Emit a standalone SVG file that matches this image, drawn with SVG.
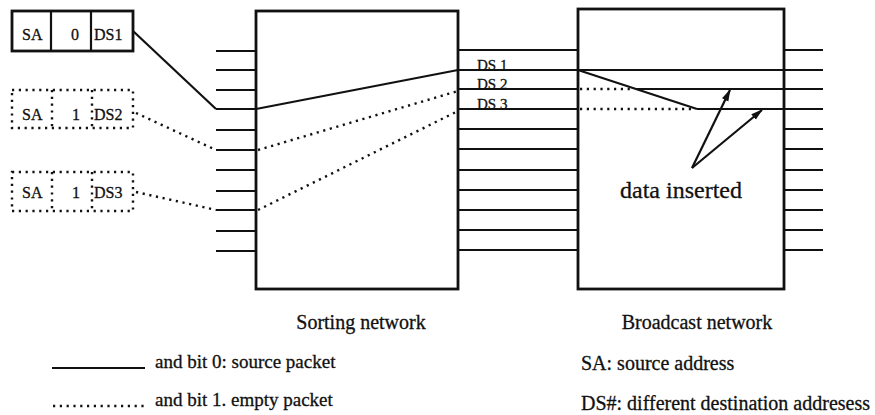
<svg xmlns="http://www.w3.org/2000/svg" width="875" height="415" viewBox="0 0 875 415">
<style>
text{font-family:"Liberation Serif","Times New Roman",serif;fill:#111;stroke:#111;stroke-width:0.3}
.s{stroke:#111;stroke-width:2.2;fill:none}
.b{stroke:#111;stroke-width:2.8;fill:#fff}
.d{stroke:#111;stroke-width:2.4;fill:none;stroke-dasharray:2.2 4.6}
.db{stroke:#111;stroke-width:2.4;fill:#fff;stroke-dasharray:2.2 4.6}
.pk{font-size:16px}
.ds{font-size:15px}
.lab{font-size:19px}
.lab2{font-size:20px}
</style>
<defs>
<marker id="ah" viewBox="0 0 12 8" refX="11" refY="4" markerWidth="12" markerHeight="8" markerUnits="userSpaceOnUse" orient="auto">
<path d="M0,0.5 L12,4 L0,7.5 Z" fill="#111"/>
</marker>
</defs>

<g id="packet1">
<rect class="b" x="12" y="11" width="121" height="40"/>
<line class="s" x1="51" y1="11" x2="51" y2="51"/>
<line class="s" x1="91" y1="11" x2="91" y2="51"/>
<text class="pk" x="22" y="40">SA</text>
<text class="pk" x="71" y="40">0</text>
<text class="pk" x="94" y="40">DS1</text>
</g>
<g id="packet2">
<rect class="db" x="12" y="90" width="121" height="38"/>
<line class="d" x1="52" y1="90" x2="52" y2="128"/>
<line class="d" x1="92" y1="90" x2="92" y2="128"/>
<text class="pk" x="22" y="120">SA</text>
<text class="pk" x="72" y="120">1</text>
<text class="pk" x="94" y="120">DS2</text>
</g>
<g id="packet3">
<rect class="db" x="12" y="172" width="121" height="39"/>
<line class="d" x1="52" y1="172" x2="52" y2="211"/>
<line class="d" x1="92" y1="172" x2="92" y2="211"/>
<text class="pk" x="22" y="198">SA</text>
<text class="pk" x="72" y="198">1</text>
<text class="pk" x="94" y="198">DS3</text>
</g>

<g id="sorting">
<rect class="b" x="256" y="11" width="202" height="278"/>
<text class="lab2" x="361" y="329" text-anchor="middle">Sorting network</text>
</g>
<g id="broadcast">
<rect class="b" x="578" y="9" width="206" height="280"/>
<text class="lab2" x="697" y="329" text-anchor="middle">Broadcast network</text>
<text x="681" y="198" text-anchor="middle" style="font-size:24px">data inserted</text>
</g>

<g id="connectors">
<path class="s" d="M216,51H256M216,70H256M216,90H256M216,109H256M216,130H256M216,150H256M216,170H256M216,191H256M216,210H256M216,231H256M216,251H256"/>
<path class="s" d="M458,50H578M458,70H578M458,89H578M458,109H578M458,129H578M458,149H578M458,170H578M458,190H578M458,210H578M458,230H578M458,250H578"/>
<path class="s" d="M784,50H823M784,70H823M784,89H823M784,109H823M784,129H823M784,149H823M784,170H823M784,190H823M784,210H823M784,230H823M784,250H823"/>
<polyline class="s" points="133,31 216,109"/>
<line class="d" x1="136" y1="113" x2="216" y2="150"/>
<line class="d" x1="136" y1="192" x2="216" y2="210"/>
<line class="s" x1="256" y1="109" x2="458" y2="70"/>
<line class="d" x1="258" y1="150" x2="458" y2="91"/>
<line class="d" x1="258" y1="210" x2="458" y2="111"/>
<line class="s" x1="578" y1="70" x2="784" y2="70"/>
<line class="d" x1="580" y1="89" x2="634" y2="89"/>
<line class="s" x1="636" y1="89" x2="784" y2="89"/>
<line class="d" x1="580" y1="109" x2="694" y2="109"/>
<line class="s" x1="697" y1="109" x2="784" y2="109"/>
<line class="s" x1="578" y1="70" x2="697" y2="109"/>
<line class="s" x1="692" y1="168" x2="730" y2="90" marker-end="url(#ah)"/>
<line class="s" x1="692" y1="168" x2="762" y2="110" marker-end="url(#ah)"/>
<text class="ds" x="477" y="70">DS 1</text>
<text class="ds" x="477" y="89">DS 2</text>
<text class="ds" x="477" y="109">DS 3</text>
</g>

<g id="legend">
<line class="s" x1="52" y1="368" x2="145" y2="368"/>
<text class="lab" x="155" y="368">and bit 0: source packet</text>
<line class="d" x1="53" y1="406" x2="145" y2="406"/>
<text class="lab" x="155" y="406">and bit 1. empty packet</text>
<text class="lab2" x="581" y="370">SA: source address</text>
<text class="lab2" x="581" y="410">DS#: different destination addresess</text>
</g>
</svg>
